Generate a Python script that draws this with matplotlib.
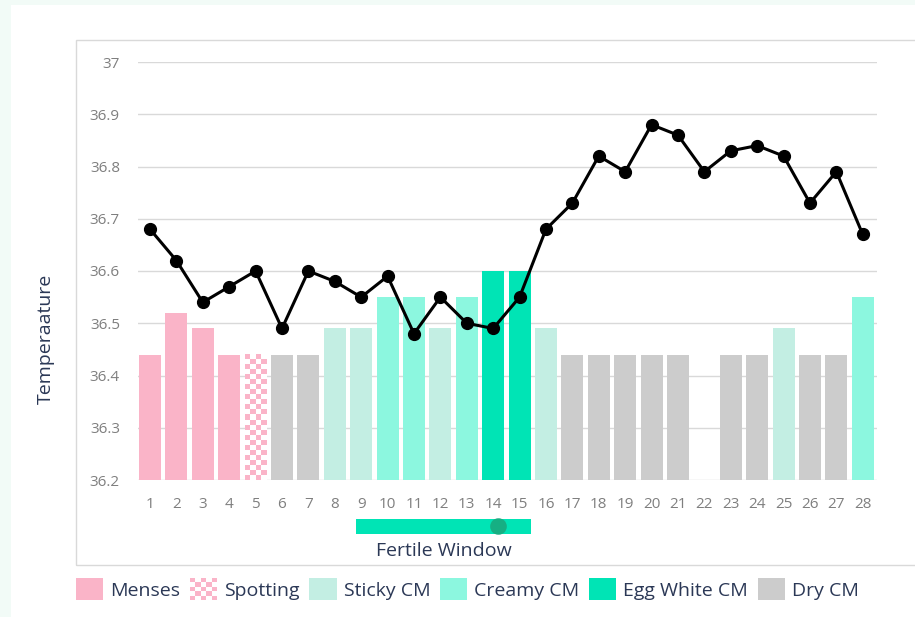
import numpy as np
import matplotlib.pyplot as plt
from matplotlib.patches import Rectangle
from matplotlib.legend_handler import HandlerBase
import matplotlib.transforms as mtransforms

# dados do ciclo
dias = np.arange(1, 29)
temperatura = [36.68, 36.62, 36.54, 36.57, 36.60, 36.49, 36.60, 36.58, 36.55, 36.59,
               36.48, 36.55, 36.50, 36.49, 36.55, 36.68, 36.73, 36.82, 36.79, 36.88,
               36.86, 36.79, 36.83, 36.84, 36.82, 36.73, 36.79, 36.67]
barras = [36.44, 36.52, 36.49, 36.44, 36.44, 36.44, 36.44, 36.49, 36.49, 36.55,
          36.55, 36.49, 36.55, 36.60, 36.60, 36.49, 36.44, 36.44, 36.44, 36.44,
          36.44, np.nan, 36.44, 36.44, 36.49, 36.44, 36.44, 36.55]
tipo = ['Menses', 'Menses', 'Menses', 'Menses', 'Spotting', 'Dry CM', 'Dry CM',
        'Sticky CM', 'Sticky CM', 'Creamy CM', 'Creamy CM', 'Sticky CM', 'Creamy CM',
        'Egg White CM', 'Egg White CM', 'Sticky CM', 'Dry CM', 'Dry CM', 'Dry CM',
        'Dry CM', 'Dry CM', None, 'Dry CM', 'Dry CM', 'Sticky CM', 'Dry CM', 'Dry CM',
        'Creamy CM']
categorias = ['Menses', 'Spotting', 'Sticky CM', 'Creamy CM', 'Egg White CM', 'Dry CM']
cores = {'Menses': '#fab4c8', 'Spotting': '#fab4c8', 'Sticky CM': '#c3eee3',
         'Creamy CM': '#8cf7df', 'Egg White CM': '#00e4b5', 'Dry CM': '#cccccc'}
janela_fertil = [8.8, 15.43]
ovulacao = 14.2
yticks = [36.2, 36.3, 36.4, 36.5, 36.6, 36.7, 36.8, 36.9, 37.0]
ylabels = ['36.2', '36.3', '36.4', '36.5', '36.6', '36.7', '36.8', '36.9', '37']

navy = '#2b3856'
rosa = cores['Spotting']


class Xadrez(HandlerBase):
    def create_artists(self, legend, orig_handle, xdescent, ydescent,
                       width, height, fontsize, trans):
        arts = []
        n, m = 5, 5
        for i in range(n):
            for j in range(m):
                c = rosa if (i + j) % 2 == 0 else 'white'
                arts.append(Rectangle((-xdescent + i * width / n, -ydescent + j * height / m),
                                      width / n, height / m, fc=c, ec='none', transform=trans))
        return arts


fig = plt.figure(figsize=(9.15, 6.17), dpi=100, facecolor='#f2fbf7')
fig.add_artist(Rectangle((11 / 915, 0), 1, 1 - 5 / 617, transform=fig.transFigure,
                         fc='white', ec='none', zorder=-2))
fig.add_artist(Rectangle((76 / 915, 1 - 565 / 617), 1, (565 - 40) / 617,
                         transform=fig.transFigure, fc='none', ec='#d9d9d9', lw=1, zorder=-1))

ax = fig.add_axes([138 / 915, 1 - 480 / 617, (877 - 138) / 915, (480 - 62) / 617])
ax.set_facecolor('none')

largura = 0.83
for d, v, t in zip(dias, barras, tipo):
    if t is None:
        continue
    if t == 'Spotting':
        b = ax.bar(d, v - 36.2, bottom=36.2, width=largura, color='white', zorder=2)[0]
        nx, ny = 4, int(round((v - 36.2) * 522.5 / 5))
        img = np.indices((ny, nx)).sum(axis=0) % 2
        ax.imshow(img, cmap=plt.matplotlib.colors.ListedColormap([rosa, 'white']),
                  extent=(b.get_x(), b.get_x() + b.get_width(), 36.2, v),
                  aspect='auto', interpolation='nearest', zorder=2.5, origin='lower')
    else:
        ax.bar(d, v - 36.2, bottom=36.2, width=largura, color=cores[t], zorder=2)

ax.plot(dias, temperatura, color='black', lw=2.2, marker='o', ms=8.5, zorder=4)

ax.set_xlim(0.545, 28.54)
ax.set_ylim(36.2, 37.0)
ax.set_yticks(yticks)
ax.set_yticklabels(ylabels)
ax.set_xticks(dias)
ax.grid(axis='y', color='#d9d9d9', lw=1, zorder=0)
ax.set_axisbelow(True)
for s in ax.spines.values():
    s.set_visible(False)
ax.tick_params(length=0, labelcolor='#7f7f7f', labelsize=11)
ax.tick_params(axis='x', pad=12)
ax.tick_params(axis='y', pad=13)
for lab in ax.get_xticklabels() + ax.get_yticklabels():
    lab.set_family('Open Sans')

ax.set_ylabel('Temperaature', color=navy, fontsize=14, family='Open Sans')
ax.yaxis.set_label_coords(-0.113, 0.337)

# janela fertil
trans = mtransforms.blended_transform_factory(ax.transData, ax.transAxes)
ax.add_patch(Rectangle((janela_fertil[0], -0.129), janela_fertil[1] - janela_fertil[0], 0.036,
                       transform=trans, fc='#00e4b5', ec='none', clip_on=False))
ax.plot([ovulacao], [-0.111], marker='o', ms=12, color='#1ba67b', alpha=0.85,
        transform=trans, clip_on=False, mec='none')
ax.text(np.mean(janela_fertil), -0.17, 'Fertile Window', transform=trans,
        ha='center', va='center', color=navy, fontsize=14, family='Open Sans')

handles = [Rectangle((0, 0), 1, 1, fc=cores[c], ec='none') for c in categorias]
leg = fig.legend(handles, categorias, loc='upper left', bbox_to_anchor=(76 / 915, 1 - 578 / 617),
                 ncol=6, frameon=False, handlelength=1.4, handleheight=1.4,
                 handletextpad=0.36, columnspacing=0.5, borderpad=0, borderaxespad=0,
                 handler_map={handles[1]: Xadrez()},
                 prop={'family': 'Open Sans', 'size': 14})
for t in leg.get_texts():
    t.set_color(navy)

fig.savefig('out.png', dpi=100, facecolor=fig.get_facecolor())
